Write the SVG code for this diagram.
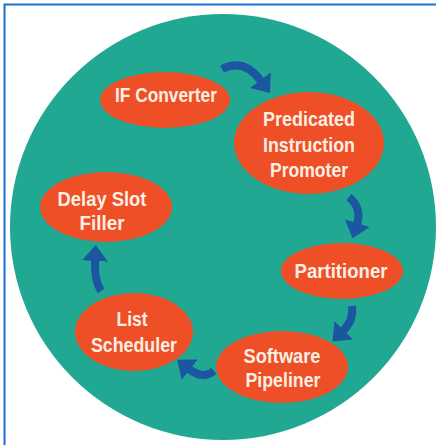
<svg xmlns="http://www.w3.org/2000/svg" width="436" height="445" viewBox="0 0 436 445">
  <style>
    .node { fill: #ee4f27; }
    .label { font-family: "Liberation Sans", Arial, sans-serif; font-weight: bold; font-size: 21px; fill: #fcefe3; text-anchor: middle; }
    .flow { fill: none; stroke: #1b57a1; stroke-width: 8; stroke-linecap: butt; }
  </style>
  <defs>
    <marker id="head" markerUnits="userSpaceOnUse" viewBox="0 0 16 26" refX="1" refY="13" markerWidth="16" markerHeight="26" orient="auto">
      <path d="M0,0 L16,13 L0,26 z" fill="#1b57a1"/>
    </marker>
  </defs>

  <!-- page background and frame -->
  <rect width="436" height="445" fill="#ffffff"/>
  <path d="M4.5,445 V4.5 H436" fill="none" stroke="#1c6fd4" stroke-width="2"/>

  <!-- backdrop disc -->
  <circle cx="223" cy="227" r="213" fill="#21a893"/>

  <!-- connectors -->
  <g id="connectors">
    <path class="flow" d="M222,69 Q244,58 261,81" marker-end="url(#head)"/>
    <path class="flow" d="M349,197 Q362,208 357,224" marker-end="url(#head)"/>
    <path class="flow" d="M352,306 Q354,320 343,331" marker-end="url(#head)"/>
    <path class="flow" d="M214,371 Q203,380 189,369" marker-end="url(#head)"/>
    <path class="flow" d="M101,291 Q94,280 95,260" marker-end="url(#head)"/>
  </g>

  <g id="if-converter">
    <ellipse class="node" cx="165" cy="100" rx="65" ry="28"/>
    <text class="label" x="166" y="102" textLength="102" lengthAdjust="spacingAndGlyphs">IF Converter</text>
  </g>

  <g id="predicated-instruction-promoter">
    <ellipse class="node" cx="309" cy="143" rx="75" ry="51"/>
    <text class="label" x="309" y="126" textLength="92" lengthAdjust="spacingAndGlyphs">Predicated</text>
    <text class="label" x="309" y="152" textLength="92" lengthAdjust="spacingAndGlyphs">Instruction</text>
    <text class="label" x="309" y="177" textLength="78" lengthAdjust="spacingAndGlyphs">Promoter</text>
  </g>

  <g id="partitioner">
    <ellipse class="node" cx="342" cy="271" rx="61" ry="28"/>
    <text class="label" x="341" y="278" textLength="93" lengthAdjust="spacingAndGlyphs">Partitioner</text>
  </g>

  <g id="software-pipeliner">
    <ellipse class="node" cx="282" cy="367" rx="66" ry="36"/>
    <text class="label" x="282" y="363" textLength="77" lengthAdjust="spacingAndGlyphs">Software</text>
    <text class="label" x="283" y="387" textLength="75" lengthAdjust="spacingAndGlyphs">Pipeliner</text>
  </g>

  <g id="list-scheduler">
    <ellipse class="node" cx="134" cy="332" rx="59" ry="39"/>
    <text class="label" x="132" y="326" textLength="31" lengthAdjust="spacingAndGlyphs">List</text>
    <text class="label" x="134" y="352" textLength="86" lengthAdjust="spacingAndGlyphs">Scheduler</text>
  </g>

  <g id="delay-slot-filler">
    <ellipse class="node" cx="106" cy="207" rx="66" ry="35"/>
    <text class="label" x="102" y="206" textLength="89" lengthAdjust="spacingAndGlyphs">Delay Slot</text>
    <text class="label" x="102" y="230" textLength="45" lengthAdjust="spacingAndGlyphs">Filler</text>
  </g>
</svg>
